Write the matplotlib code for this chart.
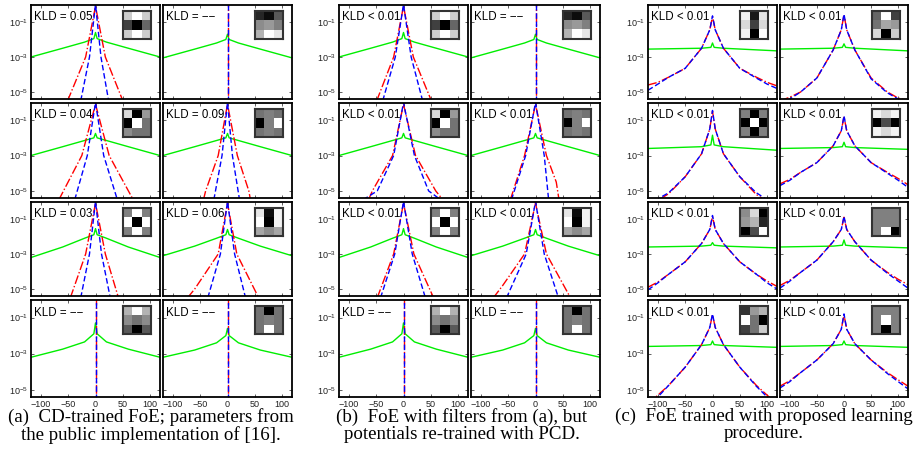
import matplotlib
matplotlib.use("Agg")
import matplotlib.pyplot as plt
import numpy as np

plt.rcParams['font.family'] = ['Liberation Sans', 'DejaVu Sans']
plt.rcParams['mathtext.default'] = 'regular'

# ---- data (log10 densities at knot points), panels in row-major order ----
KLD_A = ["KLD = 0.05", "KLD = \u2212\u2212", "KLD = 0.04", "KLD = 0.09",
         "KLD = 0.03", "KLD = 0.06", "KLD = \u2212\u2212", "KLD = \u2212\u2212"]
KLD_B = ["KLD < 0.01", "KLD = \u2212\u2212", "KLD < 0.01", "KLD < 0.01",
         "KLD < 0.01", "KLD < 0.01", "KLD = \u2212\u2212", "KLD = \u2212\u2212"]
KLD_C = ["KLD < 0.01"] * 8

FILTERS_A = [
    [[0.8, 1, 0.8], [0.25, 0, 0.4], [0.8, 1, 0.8]],
    [[0.15, 0.05, 0.35], [0.55, 0.6, 0.5], [0.7, 1, 0.9]],
    [[0.85, 0, 0.6], [0, 1, 0.45], [0.55, 0.45, 0.45]],
    [[0.45, 0.5, 0.45], [0, 0.5, 1], [0.45, 0.5, 0.45]],
    [[0.5, 1, 0.5], [1, 0, 1], [0.5, 1, 0.5]],
    [[0.9, 0.05, 0.95], [1, 0, 0.95], [0.65, 0.55, 0.65]],
    [[0.7, 1, 0.7], [0.55, 0.45, 0.55], [0.35, 0, 0.35]],
    [[0.45, 0, 0.45], [0.45, 0.5, 0.45], [0.45, 1, 0.45]],
]
FILTERS_C = [
    [[0.95, 0.1, 0.9], [0.85, 0.25, 0.85], [0.95, 0, 1]],
    [[0.4, 1, 0.25], [0.45, 0.65, 0.6], [0.85, 0, 0.8]],
    [[0.5, 0, 0.5], [0, 1, 0], [0.5, 0, 0.5]],
    [[0.95, 0.85, 0.95], [0, 0.3, 0], [0.95, 0.85, 0.95]],
    [[0.55, 0.85, 0], [0.6, 0.7, 0.15], [0, 0.3, 1]],
    [[0.5, 0.5, 0.5], [0.5, 0.5, 0.5], [0.5, 1, 0]],
    [[0.2, 0.6, 0.7], [1, 0.45, 0], [0.25, 0.45, 0.8]],
    [[0.5, 0.5, 0.5], [0.5, 1, 0.5], [0.5, 0, 0.5]],
]

SPIKE = ([0, 0], [-6.0, 0.3])

RED_A = [
    ([-51, -18, 0, 18, 50], [-5.5, -3.0, -0.1, -3.0, -5.5]),
    SPIKE,
    ([-67, -25, 0, 25, 69], [-5.5, -3.0, -0.1, -3.0, -5.5]),
    ([-44, -40, -17, 0, 18, 39, 42], [-5.5, -5.0, -3.0, -0.1, -3.0, -5.0, -5.5]),
    ([-46, -18, 0, 18, 42], [-5.5, -3.0, -0.1, -3.0, -5.5]),
    ([-73, -60, -17, 0, 17, 57], [-5.5, -5.0, -3.0, -0.1, -3.0, -5.5]),
    SPIKE, SPIKE,
]
BLUE_A = [
    ([-27, -11, 0, 10, 24], [-5.5, -3.0, 0.0, -3.0, -5.5]),
    SPIKE,
    ([-38, -15, 0, 15, 40], [-5.5, -3.0, 0.0, -3.0, -5.5]),
    ([-25, -10, 0, 9, 22], [-5.5, -3.0, 0.0, -3.0, -5.5]),
    ([-27, -11, 0, 11, 27], [-5.5, -3.0, 0.0, -3.0, -5.5]),
    ([-36, -13, 0, 13, 33], [-5.5, -3.0, 0.0, -3.0, -5.5]),
    SPIKE, SPIKE,
]
RED_B = [
    ([-49, -18, 0, 18, 51], [-5.5, -3.0, -0.1, -3.0, -5.5]),
    SPIKE,
    ([-64, -57, -20, 0, 22, 59, 72], [-5.5, -5.0, -3.0, -0.1, -3.0, -5.0, -5.5]),
    ([-46, -20, 0, 20, 38, 43], [-5.5, -3.0, -0.1, -3.0, -4.5, -5.5]),
    ([-48, -18, 0, 19, 55], [-5.5, -3.0, -0.1, -3.0, -5.5]),
    ([-77, -60, -20, 0, 20, 64], [-5.5, -4.8, -3.0, -0.1, -3.0, -5.5]),
    SPIKE, SPIKE,
]
BLUE_B = [
    ([-38, -15, 0, 14, 35], [-5.5, -3.0, 0.0, -3.0, -5.5]),
    SPIKE,
    ([-74, -48, -18, 0, 20, 46, 68], [-5.5, -5.0, -3.0, 0.0, -3.0, -5.0, -5.5]),
    ([-44, -18, 0, 16, 24], [-5.5, -3.0, 0.0, -3.0, -5.5]),
    ([-42, -16, 0, 16, 40], [-5.5, -3.0, 0.0, -3.0, -5.5]),
    ([-53, -17, 0, 16, 42], [-5.5, -3.0, 0.0, -3.0, -5.5]),
    SPIKE, SPIKE,
]

GREEN_X_AB = [-118, -60, -20, -3, 0, 3, 20, 60, 118]
GREEN_AB = [
    [-3.0, -2.5, -2.15, -1.95, -1.6, -1.95, -2.15, -2.5, -3.0],
    [-3.05, -2.55, -2.2, -2.0, -1.7, -2.0, -2.2, -2.55, -3.05],
    [-3.0, -2.5, -2.15, -2.0, -1.75, -2.0, -2.15, -2.5, -3.0],
    [-3.0, -2.5, -2.15, -2.0, -1.75, -2.0, -2.15, -2.5, -3.0],
    [-3.2, -2.6, -2.1, -1.9, -1.55, -1.9, -2.1, -2.6, -3.2],
    [-3.1, -2.55, -2.1, -1.9, -1.6, -1.9, -2.1, -2.55, -3.1],
    [-3.2, -2.75, -2.35, -1.9, -1.3, -1.9, -2.35, -2.75, -3.2],
    [-3.2, -2.8, -2.4, -2.0, -1.6, -2.0, -2.4, -2.8, -3.2],
]

C_X = [-118, -100, -80, -50, -20, -5, 0, 5, 20, 50, 80, 100, 118]
RED_C = [
    [-4.6, -4.45, -4.15, -3.65, -2.5, -1.45, -0.7, -1.45, -2.5, -3.65, -4.15, -4.45, -4.65],
    [-5.5, -5.3, -5.0, -4.2, -2.6, -1.45, -0.58, -1.45, -2.6, -4.2, -5.0, -5.35, -5.5],
    [-5.9, -5.55, -5.15, -4.2, -2.9, -1.5, -0.5, -1.5, -2.9, -4.2, -5.2, -5.6, -5.9],
    [-4.6, -4.35, -3.95, -3.4, -2.45, -1.6, -0.8, -1.6, -2.45, -3.4, -3.95, -4.3, -4.65],
    [-4.9, -4.6, -4.15, -3.45, -2.4, -1.6, -0.85, -1.6, -2.4, -3.45, -4.15, -4.55, -4.85],
    [-4.8, -4.5, -4.05, -3.35, -2.3, -1.6, -0.9, -1.6, -2.3, -3.35, -4.05, -4.45, -4.75],
    [-5.8, -5.3, -4.75, -3.75, -2.5, -1.55, -0.85, -1.55, -2.5, -3.75, -4.75, -5.3, -5.8],
    [-4.8, -4.5, -4.05, -3.35, -2.45, -1.65, -0.85, -1.65, -2.45, -3.35, -4.05, -4.45, -4.8],
]
BLUE_C = [
    [-4.9, -4.55, -4.15, -3.65, -2.5, -1.45, -0.65, -1.45, -2.5, -3.65, -4.2, -4.55, -4.8],
    [-5.7, -5.4, -5.0, -4.2, -2.6, -1.45, -0.55, -1.45, -2.6, -4.25, -5.05, -5.4, -5.7],
    [-5.8, -5.45, -5.1, -4.2, -2.9, -1.5, -0.45, -1.5, -2.9, -4.2, -5.1, -5.5, -5.8],
    [-4.7, -4.4, -3.95, -3.4, -2.45, -1.6, -0.75, -1.6, -2.45, -3.4, -4.0, -4.4, -4.8],
    [-5.05, -4.65, -4.15, -3.45, -2.4, -1.6, -0.8, -1.6, -2.4, -3.45, -4.15, -4.65, -5.0],
    [-4.95, -4.55, -4.05, -3.35, -2.3, -1.6, -0.85, -1.6, -2.3, -3.35, -4.1, -4.55, -4.95],
    [-5.95, -5.4, -4.75, -3.75, -2.5, -1.55, -0.8, -1.55, -2.5, -3.75, -4.8, -5.4, -5.95],
    [-4.9, -4.55, -4.05, -3.35, -2.45, -1.65, -0.8, -1.65, -2.45, -3.35, -4.1, -4.55, -4.95],
]
GREEN_X_C = [-118, -20, -3, 0, 3, 20, 118]
GREEN_C = [
    [-2.55, -2.5, -2.45, -2.2, -2.45, -2.5, -2.65],
    [-2.55, -2.5, -2.45, -2.25, -2.45, -2.5, -2.65],
    [-2.6, -2.5, -2.4, -1.85, -2.4, -2.5, -2.7],
    [-2.6, -2.55, -2.5, -2.25, -2.5, -2.55, -2.65],
    [-2.6, -2.55, -2.5, -2.35, -2.5, -2.55, -2.65],
    [-2.6, -2.55, -2.5, -2.2, -2.5, -2.55, -2.65],
    [-2.6, -2.55, -2.5, -2.3, -2.5, -2.55, -2.65],
    [-2.6, -2.55, -2.5, -2.3, -2.5, -2.55, -2.65],
]

CAPTIONS = ["(a)  CD-trained FoE; parameters from\nthe public implementation of [16].",
            "(b)  FoE with filters from (a), but\npotentials re-trained with PCD.",
            "(c)  FoE trained with proposed learning\nprocedure."]

# ---- layout in pixels ----
W, H = 917, 451
COLS = [[(31, 160), (163, 292)], [(339, 468), (471, 600)], [(648, 777), (780, 908)]]
ROWS = [(5, 99), (103, 198), (202, 296), (300, 397)]
CAP_X = [151, 462, 764]

fig = plt.figure(figsize=(W / 100, H / 100), dpi=100)


def add_ax(x0, x1, y0, y1):
    return fig.add_axes([x0 / W, 1 - y1 / H, (x1 - x0) / W, (y1 - y0) / H])


groups = [
    (KLD_A, FILTERS_A, RED_A, BLUE_A),
    (KLD_B, FILTERS_A, RED_B, BLUE_B),
    (KLD_C, FILTERS_C, None, None),
]

for g, (klds, filters, reds, blues) in enumerate(groups):
    for i in range(8):
        r, c = divmod(i, 2)
        (x0, x1), (y0, y1) = COLS[g][c], ROWS[r]
        ax = add_ax(x0, x1, y0, y1)
        if g < 2:
            gx, gy = GREEN_X_AB, GREEN_AB[i]
            rx, ry = reds[i]
            bx, by = blues[i]
        else:
            gx, gy = GREEN_X_C, GREEN_C[i]
            rx, ry = C_X, RED_C[i]
            bx, by = C_X, BLUE_C[i]
        ax.plot(gx, 10 ** np.array(gy), color='#00ee00', lw=1.0)
        ax.plot(rx, 10 ** np.array(ry), color='red', lw=1.0, ls='-.')
        ax.plot(bx, 10 ** np.array(by), color='blue', lw=1.0, ls=(0, (4, 2)))
        ax.set_yscale('log')
        ax.set_xlim(-118, 118)
        ax.set_ylim(10 ** -5.4, 10 ** -0.03)
        ax.set_xticks([-100, -50, 0, 50, 100])
        ax.set_yticks([1e-1, 1e-3, 1e-5])
        ax.yaxis.set_minor_locator(matplotlib.ticker.NullLocator())
        ax.set_yticklabels(['$10^{-1}$', '$10^{-3}$', '$10^{-5}$'])
        ax.tick_params(direction='in', length=2.5, width=0.5, top=True, right=True,
                       labelsize=6.5, pad=2, colors='#222222')
        if c == 1:
            ax.tick_params(labelleft=False)
        if r < 3:
            ax.tick_params(labelbottom=False)
        for sp in ax.spines.values():
            sp.set_linewidth(1.3)
        ax.text(0.02, 0.87, klds[i], transform=ax.transAxes, fontsize=8.3,
                ha='left', va='center')
        # filter inset
        ins = add_ax(x0 + 92, x0 + 120, y0 + 6, y0 + 34)
        ins.imshow(filters[i], cmap='gray', vmin=0, vmax=1, interpolation='nearest')
        ins.set_xticks([])
        ins.set_yticks([])
        for sp in ins.spines.values():
            sp.set_linewidth(1.5)
            sp.set_color('#333333')

for g in range(3):
    fig.text(CAP_X[g] / W, 1 - 408 / H, CAPTIONS[g], ha='center', va='top',
             fontsize=13.6, family='Liberation Serif', linespacing=1.0)

fig.savefig('out.png', dpi=100)
